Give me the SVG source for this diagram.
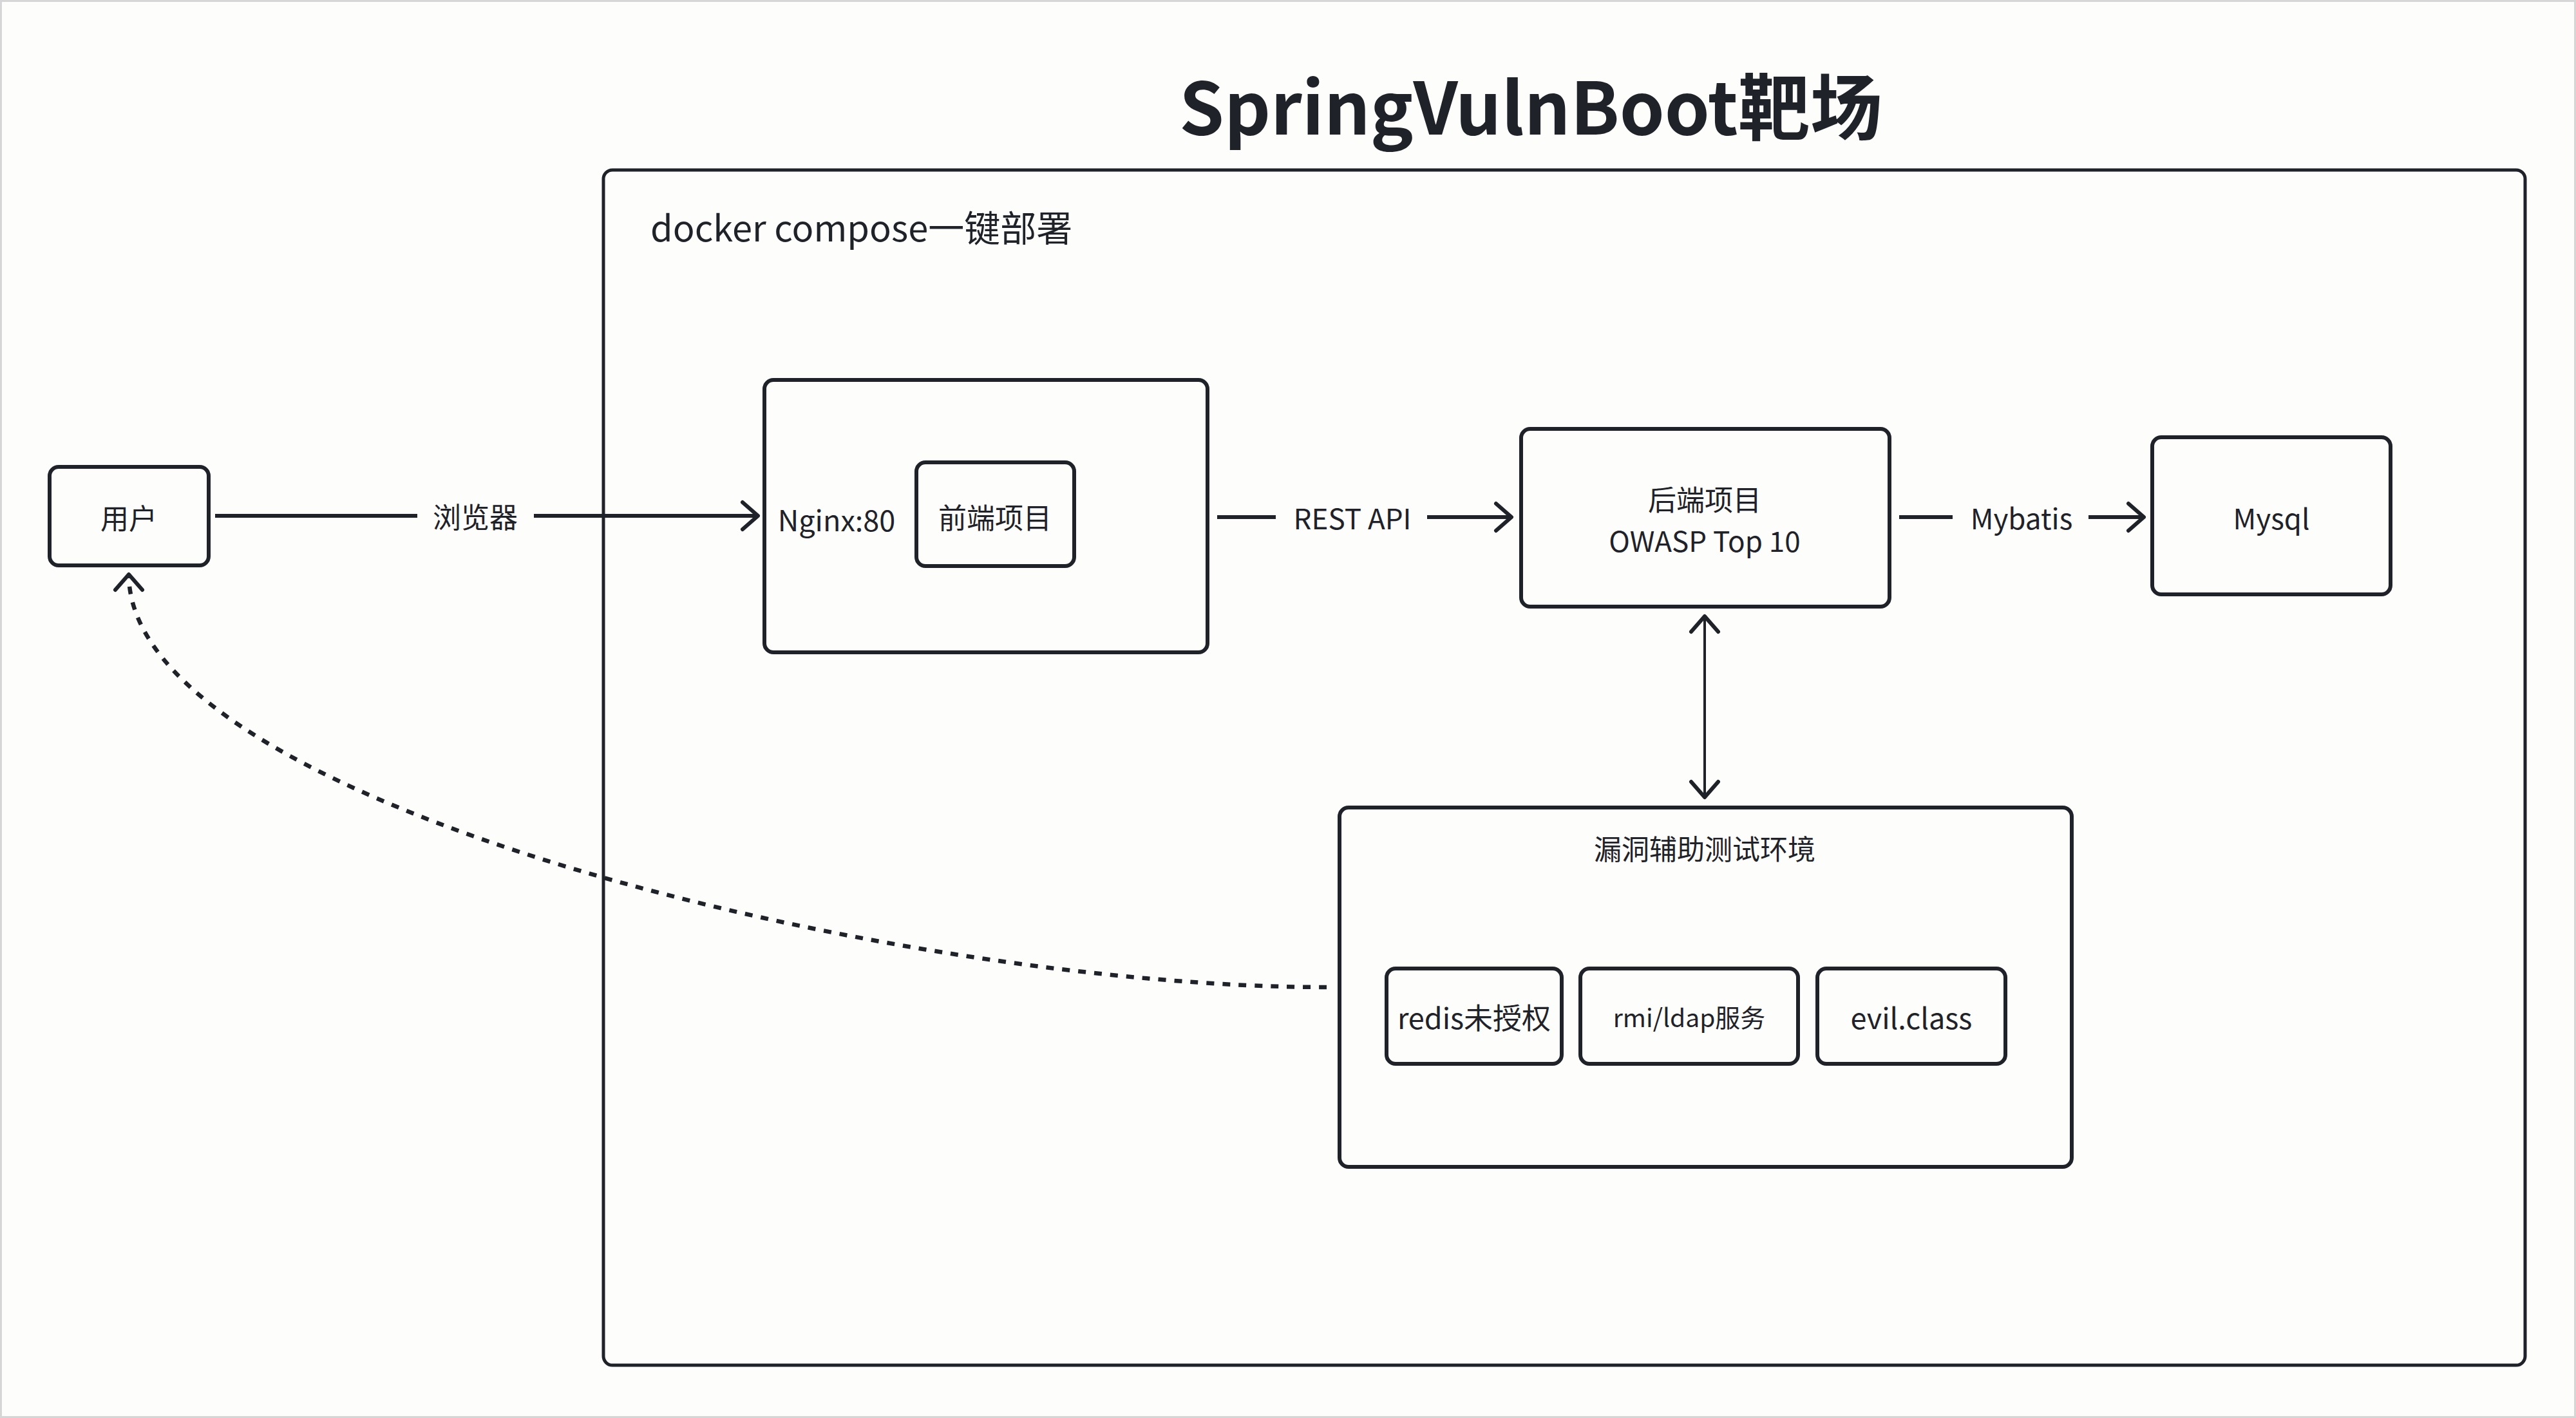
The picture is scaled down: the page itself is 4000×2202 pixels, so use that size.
<svg xmlns="http://www.w3.org/2000/svg" width="4000" height="2202" viewBox="0 0 4000 2202">
<style>
.bg{fill:#fdfdfc;stroke:#d6d6d6;stroke-width:3}
.box{fill:#fdfdfc;stroke:#1f2329;stroke-width:6}
.cont{fill:none;stroke:#1f2329;stroke-width:5}
.t{font-family:"Noto Sans CJK SC","Noto Sans",sans-serif;fill:#1f2329;text-anchor:middle;dominant-baseline:central}
.edge{fill:none;stroke:#1f2329;stroke-width:6;stroke-linecap:butt}
.thin{fill:none;stroke:#1f2329;stroke-width:4}
.dash{fill:none;stroke:#1f2329;stroke-width:6.5;stroke-dasharray:12 13}
</style>
<defs>
<marker id="arr" markerUnits="userSpaceOnUse" markerWidth="60" markerHeight="60" viewBox="-30 -30 60 60" refX="0" refY="0" orient="auto-start-reverse">
<path d="M-24,-21 L0,0 L-24,21" fill="none" stroke="#1f2329" stroke-width="6" stroke-linecap="round" stroke-linejoin="round" stroke-dasharray="none"/>
</marker>
</defs>
<rect class="bg" x="1.5" y="1.5" width="3997" height="2199"/>

<g id="title">
<text class="t" x="2377" y="160" font-size="112" font-weight="700">SpringVulnBoot靶场</text>
</g>

<g id="container">
<rect class="cont" x="937" y="264" width="2984" height="1856" rx="14"/>
<text class="t" x="1010" y="350" font-size="56" style="text-anchor:start">docker compose一键部署</text>
</g>

<g id="user">
<rect class="box" x="77" y="725" width="247" height="153" rx="14"/>
<text class="t" x="200" y="803" font-size="44">用户</text>
</g>

<g id="nginx">
<rect class="box" x="1187" y="590" width="688" height="423" rx="14"/>
<text class="t" x="1299" y="805" font-size="45">Nginx:80</text>
</g>

<g id="frontend">
<rect class="box" x="1423" y="718" width="245" height="161" rx="14"/>
<text class="t" x="1545" y="802" font-size="44">前端项目</text>
</g>

<g id="backend">
<rect class="box" x="2362" y="666" width="572" height="276" rx="14"/>
<text class="t" x="2647" y="774" font-size="44">后端项目</text>
<text class="t" x="2647" y="838" font-size="44">OWASP Top 10</text>
</g>

<g id="mysql">
<rect class="box" x="3342" y="679" width="370" height="244" rx="14"/>
<text class="t" x="3527" y="803" font-size="44">Mysql</text>
</g>

<g id="vulnenv">
<rect class="box" x="2080" y="1254" width="1137" height="558" rx="14"/>
<text class="t" x="2647" y="1316" font-size="43">漏洞辅助测试环境</text>
</g>

<g id="redis">
<rect class="box" x="2153" y="1504" width="272" height="148" rx="14"/>
<text class="t" x="2289" y="1578" font-size="45">redis未授权</text>
</g>

<g id="rmi">
<rect class="box" x="2454" y="1504" width="338" height="148" rx="14"/>
<text class="t" x="2623" y="1578" font-size="39">rmi/ldap服务</text>
</g>

<g id="evil">
<rect class="box" x="2822" y="1504" width="292" height="148" rx="14"/>
<text class="t" x="2968" y="1578" font-size="45">evil.class</text>
</g>

<g id="connectors">
<path class="edge" d="M334,801 H648"/>
<path class="edge" d="M829,801 H1177" marker-end="url(#arr)"/>
<text class="t" x="738" y="801" font-size="44">浏览器</text>

<path class="edge" d="M1890,803 H1981"/>
<path class="edge" d="M2216,803 H2347" marker-end="url(#arr)"/>
<text class="t" x="2100" y="803" font-size="44">REST API</text>

<path class="edge" d="M2949,803 H3032"/>
<path class="edge" d="M3243,803 H3329" marker-end="url(#arr)"/>
<text class="t" x="3139" y="803" font-size="44">Mybatis</text>

<path class="thin" d="M2647,957 V1238" marker-start="url(#arr)" marker-end="url(#arr)"/>

<path class="dash" d="M2060,1533 C1400,1533 200,1250 200,892" marker-end="url(#arr)"/>
</g>
</svg>
